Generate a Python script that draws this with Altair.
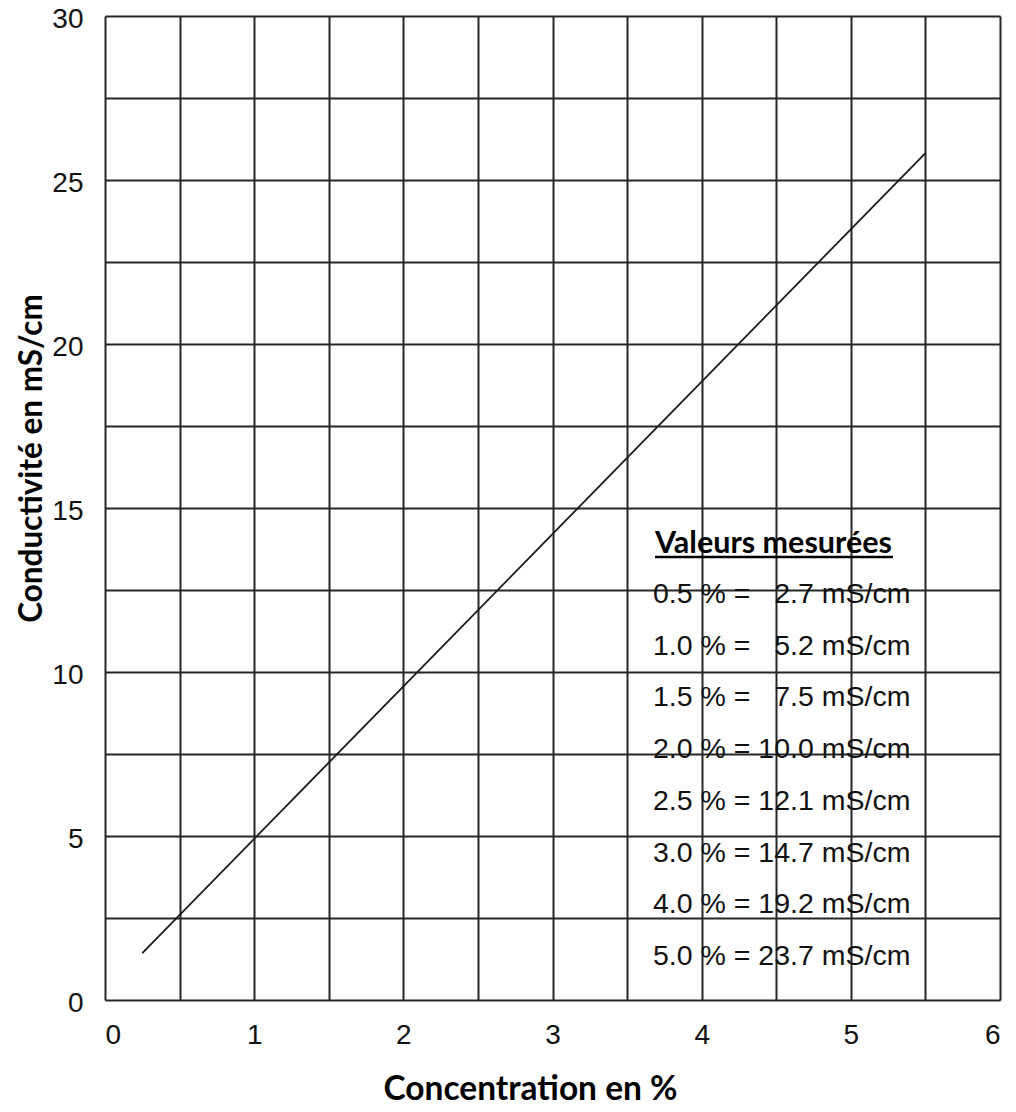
import altair as alt
import pandas as pd

# Line data
conc = [0.25, 5.5]
cond = [1.43, 25.82]

x_ticks = [0, 0.5, 1, 1.5, 2, 2.5, 3, 3.5, 4, 4.5, 5, 5.5, 6]
y_ticks = [0, 2.5, 5, 7.5, 10, 12.5, 15, 17.5, 20, 22.5, 25, 27.5, 30]

box_title = "Valeurs mesurées"
NB = "\u00a0"
box_lines = [
    "0.5 % = " + NB * 2 + "2.7 mS/cm",
    "1.0 % = " + NB * 2 + "5.2 mS/cm",
    "1.5 % = " + NB * 2 + "7.5 mS/cm",
    "2.0 % = 10.0 mS/cm",
    "2.5 % = 12.1 mS/cm",
    "3.0 % = 14.7 mS/cm",
    "4.0 % = 19.2 mS/cm",
    "5.0 % = 23.7 mS/cm",
]

df = pd.DataFrame({"c": conc, "k": cond})

W, H = 895, 984
GRID = "#262626"

line = alt.Chart(df).mark_line(color="#1a1a1a", strokeWidth=1.8).encode(
    x=alt.X(
        "c:Q",
        scale=alt.Scale(domain=[0, 6], nice=False),
        axis=alt.Axis(
            values=x_ticks,
            labelExpr="datum.value % 1 === 0 ? format(datum.value, 'd') : ''",
            title="Concentration en %",
            titleFont="Lato",
            titleFontWeight="bold",
            titleFontSize=33.5,
            titleColor="black",
            titleX=425,
            titleY=99,
            titleAlign="center",
            titleBaseline="alphabetic",
            labelFont="Liberation Sans",
            labelFontSize=28,
            labelColor="#111",
            labelPadding=21,
            ticks=False,
            domain=False,
            grid=True,
            gridColor=GRID,
            gridWidth=2,
            gridOpacity=1,
        ),
    ),
    y=alt.Y(
        "k:Q",
        scale=alt.Scale(domain=[0, 30], nice=False),
        axis=alt.Axis(
            values=y_ticks,
            labelExpr="datum.value % 5 === 0 ? format(datum.value, 'd') : ''",
            title="Conductivité en mS/cm",
            titleFont="Lato",
            titleFontWeight="bold",
            titleFontSize=31.5,
            titleColor="black",
            titleAngle=270,
            titleX=-64,
            titleY=442,
            titleAlign="center",
            titleBaseline="alphabetic",
            labelFont="Liberation Sans",
            labelFontSize=28,
            labelColor="#111",
            labelPadding=22,
            labelOffset=3,
            ticks=False,
            domain=False,
            grid=True,
            gridColor=GRID,
            gridWidth=2,
            gridOpacity=1,
        ),
    ),
)

header = alt.Chart(pd.DataFrame({"t": [box_title]})).mark_text(
    font="Lato", fontWeight="bold", fontSize=30.5, align="left",
    baseline="alphabetic", color="black"
).encode(x=alt.value(550), y=alt.value(537), text="t:N")

underline = alt.Chart(pd.DataFrame({"t": [box_title]})).mark_rule(
    color="black", strokeWidth=2.5
).encode(x=alt.value(550), x2=alt.value(788), y=alt.value(541))

body = alt.Chart(pd.DataFrame({"t": ["\n".join(box_lines)]})).mark_text(
    font="Liberation Sans", fontSize=28.5, align="left", baseline="alphabetic",
    color="#111", lineBreak="\n", lineHeight=51.7
).encode(x=alt.value(548), y=alt.value(587), text="t:N")

chart = (
    alt.layer(line, header, underline, body)
    .properties(
        width=W,
        height=H,
        autosize=alt.AutoSizeParams(type="none"),
        padding={"left": 97, "top": 8, "right": 8, "bottom": 104},
    )
    .configure_view(stroke=GRID, strokeWidth=2)
    .configure(background="white")
)

chart.save("out.html", embed_options={"renderer": "svg", "actions": False})
